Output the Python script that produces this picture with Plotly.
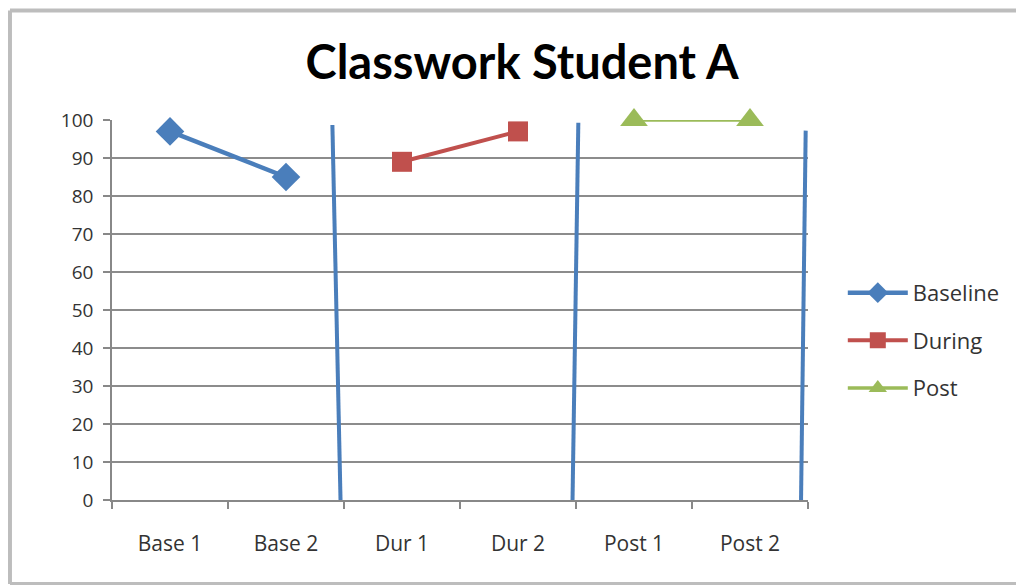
import plotly.graph_objects as go

categories = ["Base 1", "Base 2", "Dur 1", "Dur 2", "Post 1", "Post 2"]
baseline_x = ["Base 1", "Base 2"]
baseline_y = [97, 85]
during_x = ["Dur 1", "Dur 2"]
during_y = [89, 97]
post_x = ["Post 1", "Post 2"]
post_y = [100, 100]

# phase-change lines (category index units), hand drawn so slightly slanted
phase_x_top = [1.40, 3.52, 5.48]
phase_x_bottom = [1.47, 3.47, 5.44]
phase_y_top = [98.7, 99.3, 97.2]
phase_y_bottom = [0, 0, 0]

y_ticks = list(range(0, 101, 10))

BLUE = "#4A7EBB"
RED = "#C0504D"
GREEN = "#9BBB59"
FONT = "Open Sans"

fig = go.Figure()
fig.add_trace(go.Scatter(x=baseline_x, y=baseline_y, name="Baseline", mode="lines+markers",
                         line=dict(color=BLUE, width=4.5),
                         marker=dict(symbol="diamond", size=22, color=BLUE),
                         legendgroup="a", cliponaxis=False))
fig.add_trace(go.Scatter(x=during_x, y=during_y, name="During", mode="lines+markers",
                         line=dict(color=RED, width=4),
                         marker=dict(symbol="square", size=20, color=RED),
                         legendgroup="b", cliponaxis=False))
fig.add_trace(go.Scatter(x=post_x, y=post_y, name="Post", mode="lines+markers",
                         line=dict(color=GREEN, width=3.5),
                         marker=dict(symbol="triangle-up", size=24, color=GREEN),
                         legendgroup="c", cliponaxis=False))

shapes = []
for xt, xb, yt, yb in zip(phase_x_top, phase_x_bottom, phase_y_top, phase_y_bottom):
    shapes.append(dict(type="line", xref="x", yref="y", x0=xb, y0=yb, x1=xt, y1=yt,
                       line=dict(color=BLUE, width=4), layer="above"))
# chart border (left, top, bottom; right edge lies outside the picture)
border = dict(color="#BDBDBD", width=4)
bx0, bx1, by0, by1 = -0.1466, 1.6, -0.221, 1.288
shapes.append(dict(type="line", xref="paper", yref="paper", x0=bx0, x1=bx0, y0=by0, y1=by1,
                   line=border, layer="below"))
shapes.append(dict(type="line", xref="paper", yref="paper", x0=bx0, x1=bx1, y0=by1, y1=by1,
                   line=border, layer="below"))
shapes.append(dict(type="line", xref="paper", yref="paper", x0=bx0, x1=bx1, y0=by0, y1=by0,
                   line=border, layer="below"))

fig.update_layout(
    width=1016, height=577,
    margin=dict(l=104, r=216, t=112, b=85),
    paper_bgcolor="white", plot_bgcolor="white",
    title=dict(text="<b>Classwork Student A</b>", x=0.506, xref="container", xanchor="center",
               y=0.905, yref="container", yanchor="middle",
               font=dict(family="Lato", size=47, color="black")),
    font=dict(family=FONT, color="#333333"),
    showlegend=True,
    legend=dict(x=1.05, xanchor="left", y=0.42, yanchor="middle",
                font=dict(family=FONT, size=22, color="#333333"),
                tracegroupgap=16, itemwidth=60, bgcolor="rgba(0,0,0,0)"),
    shapes=shapes,
)
fig.update_xaxes(type="category", categoryorder="array", categoryarray=categories,
                 range=[-0.5, 5.5], tickson="boundaries", ticks="outside", ticklen=7,
                 tickcolor="#888888", tickwidth=1.5, showline=True, linecolor="#888888",
                 linewidth=1.5, showgrid=False, tickfont=dict(size=21, color="#333333"),
                 ticklabelstandoff=24, zeroline=False)
fig.update_yaxes(range=[0, 100], tickvals=y_ticks, ticks="outside", ticklen=7,
                 tickcolor="#888888", tickwidth=1.5, showline=True, linecolor="#888888",
                 linewidth=1.5, showgrid=True, gridcolor="#8C8C8C", gridwidth=1.5,
                 tickfont=dict(size=19, color="#333333"), zeroline=False,
                 ticklabelstandoff=6)

fig.write_html("out.html")
